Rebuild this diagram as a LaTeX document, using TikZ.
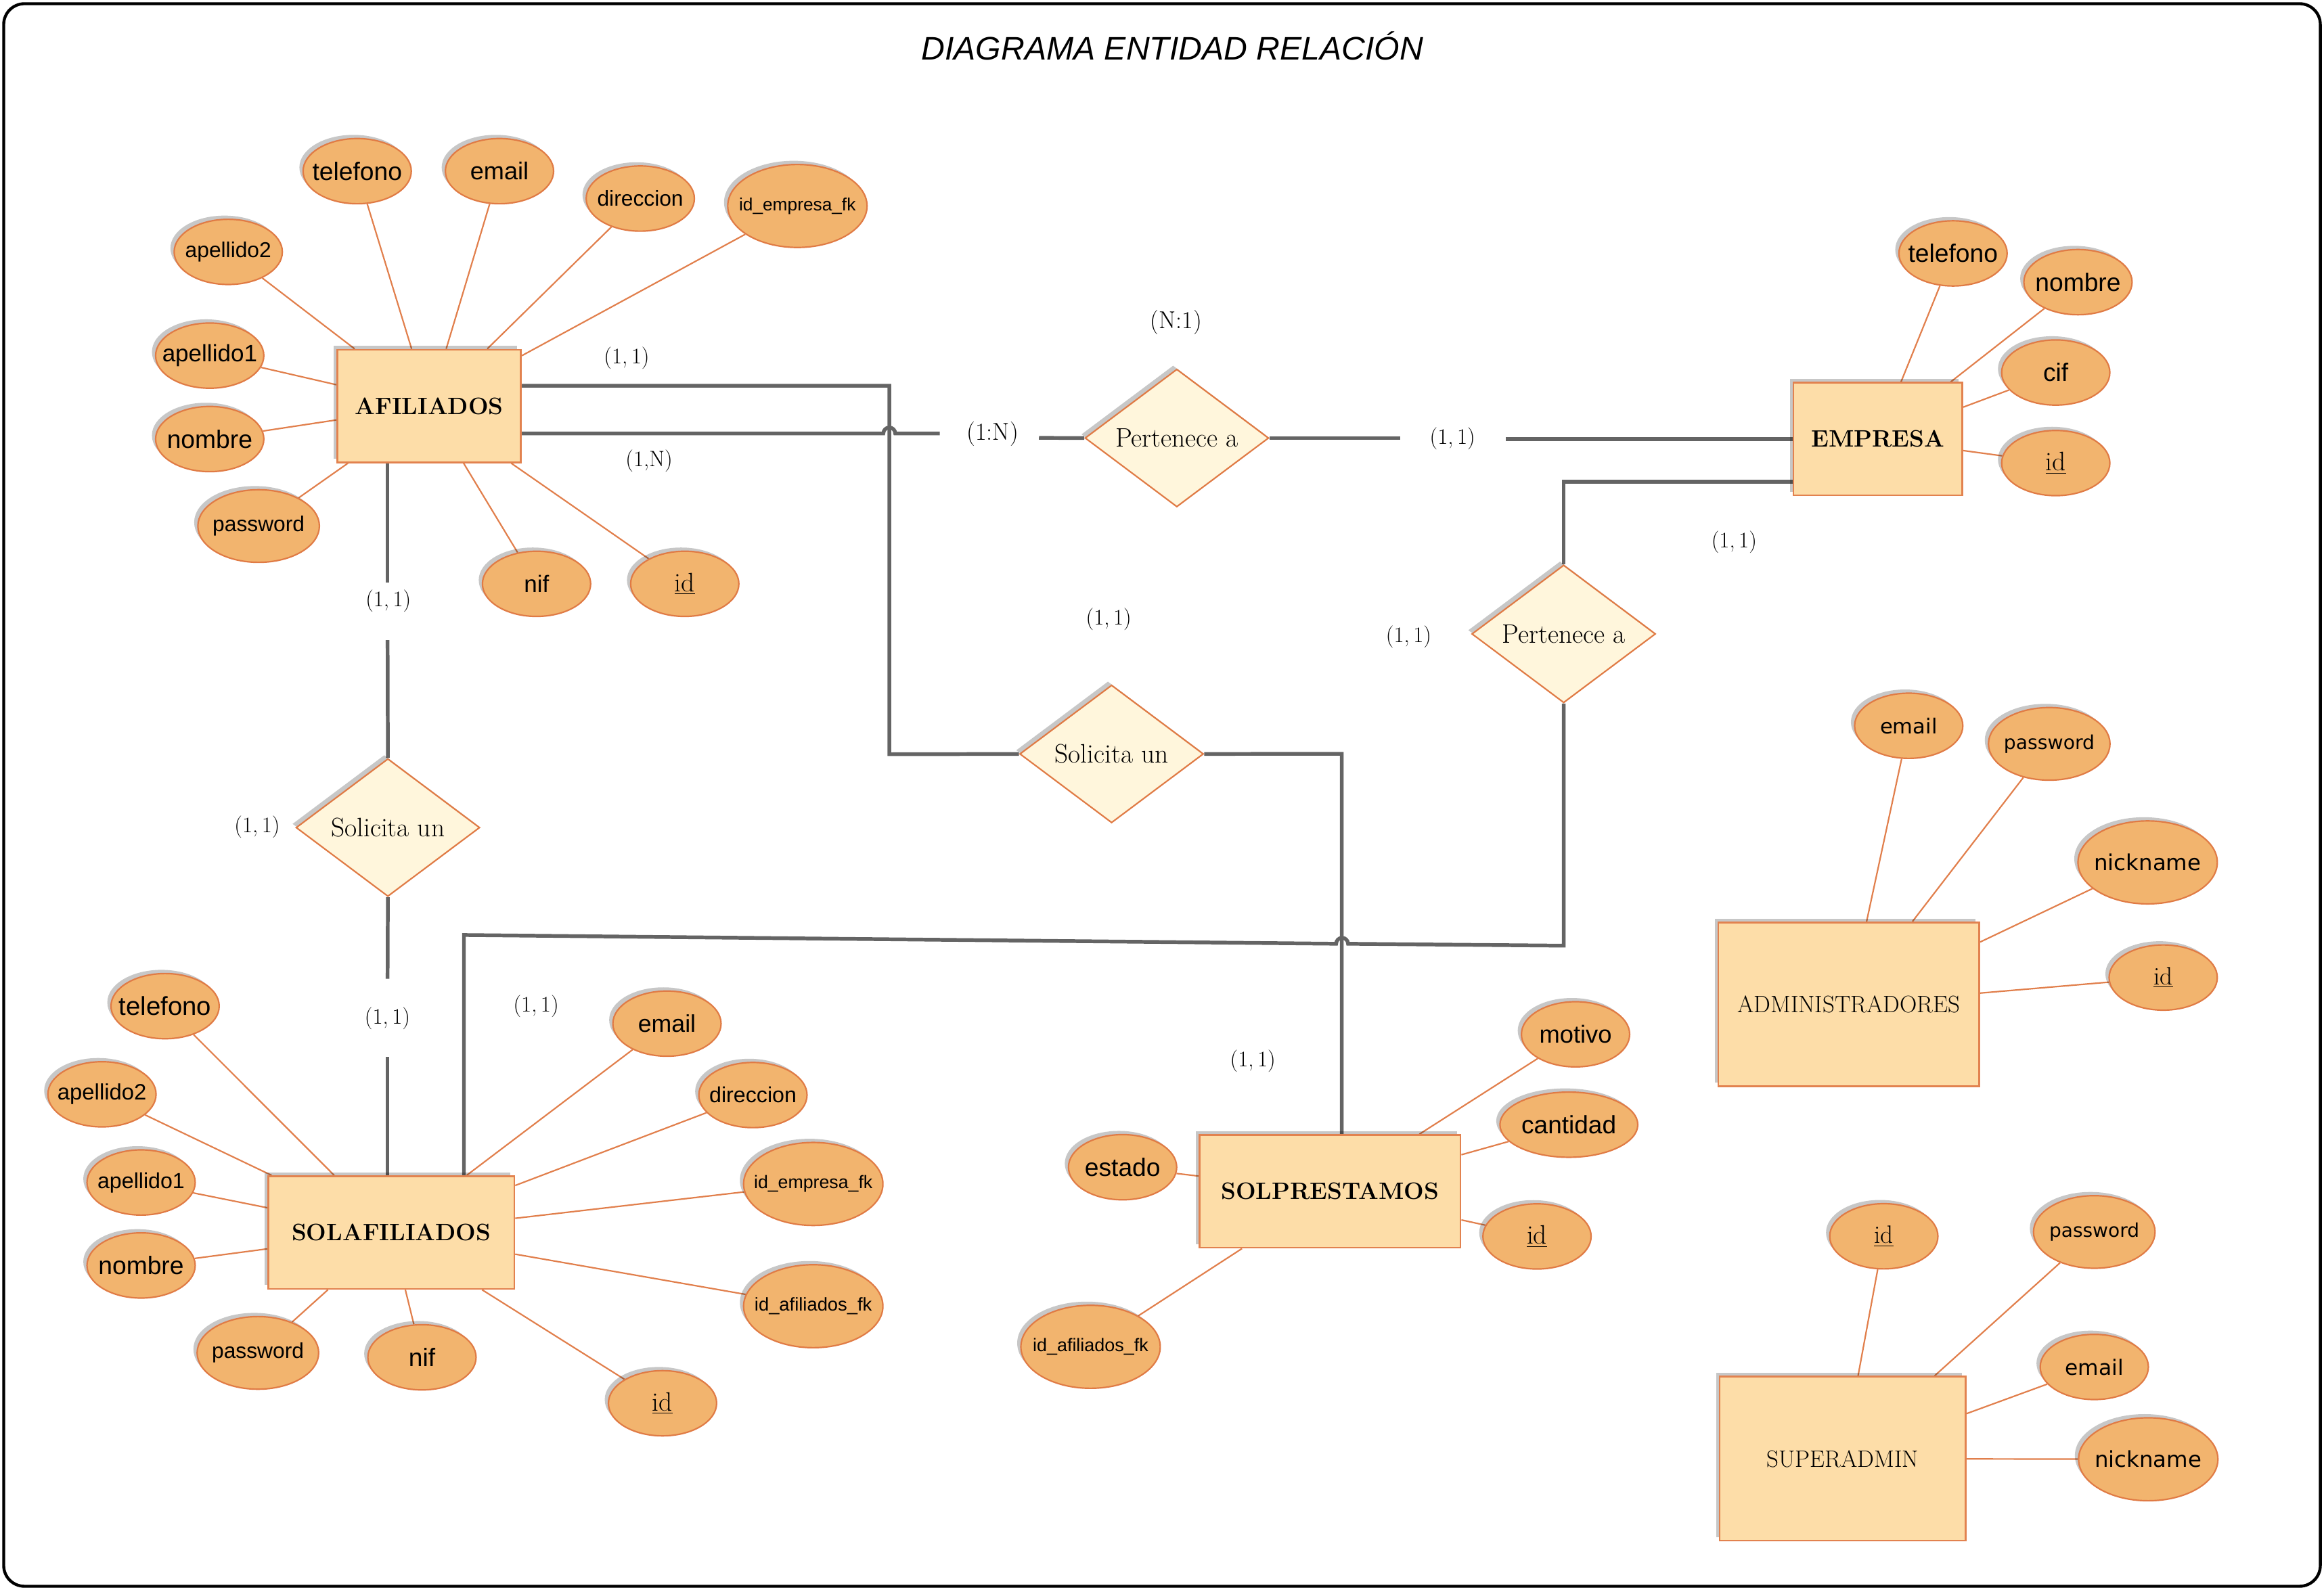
\documentclass[tikz,border=0pt]{standalone}
\usepackage{fontspec}
\usetikzlibrary{shapes.geometric,shadows}
\newfontfamily\asf{Liberation Sans}
\newfontfamily\dvs{DejaVu Sans}
\newcommand\myfs[1]{\fontsize{#1pt}{#1pt}\selectfont}
\newcommand\zb[1]{\makebox[0pt]{#1}}
\definecolor{attrfill}{HTML}{F2B46E}
\definecolor{attrdraw}{HTML}{E07B45}
\definecolor{entfill}{HTML}{FDDDA8}
\definecolor{entdraw}{HTML}{E2824F}
\definecolor{relfill}{HTML}{FFF6DC}
\definecolor{reldraw}{HTML}{E07B45}
\definecolor{conncol}{HTML}{646464}
\definecolor{alinkcol}{HTML}{E17F4C}
\pgfdeclarelayer{bg}
\pgfsetlayers{bg,main}
\tikzset{
  shd/.style={drop shadow={shadow xshift=-2.5pt,shadow yshift=2.5pt,opacity=0.22,fill=black}},
  attr/.style={ellipse, draw=attrdraw, fill=attrfill, line width=1pt, inner sep=0pt,
    minimum width=73pt, minimum height=44pt, shd, font=\asf\myfs{#1}},
  attrD/.style={attr=10, font=\dvs\myfs{#1}},
  attrI/.style={attr=10, font=\rmfamily\myfs{#1}},
  big/.style={minimum width=94pt, minimum height=56pt},
  pw/.style={minimum width=82pt, minimum height=49pt},
  ent/.style={rectangle, draw=entdraw, fill=entfill, line width=1.2pt, inner sep=0pt,
    shd, font=\bfseries\myfs{16}},
  rel/.style={diamond, aspect=1.33, draw=reldraw, fill=relfill, line width=1pt, inner sep=0pt,
    minimum width=124pt, minimum height=93pt, shd, font=\myfs{18}},
  card/.style={inner sep=0pt, font=\myfs{15}},
  conn/.style={draw=conncol, line width=2.5pt},
  alink/.style={draw=alinkcol, line width=1pt},
}
\begin{document}
\begin{tikzpicture}[x=1pt,y=-1pt]
\useasboundingbox (0,0) rectangle (1568,1073);
\draw[line width=2pt, rounded corners=14pt] (2.5,2.5) rectangle (1565.5,1070.5);

\node[inner sep=0pt] (title) at (791,31) {\asf\itshape\myfs{22}DIAGRAMA ENTIDAD RELACIÓN};

% AFILIADOS
\node[ent, minimum width=124pt, minimum height=76pt] (af) at (289.5,274) {AFILIADOS};
\node[attr=17] (af1) at (241,115.5) {\zb{telefono}};
\node[attr=16.5] (af2) at (337,115.5) {\zb{email}};
\node[attr=14.5] (af3) at (432,134) {\zb{direccion}};
\node[attr=12, big] (af4) at (538,139) {\zb{id\_empresa\_fk}};
\node[attr=14.5] (af5) at (154,170) {\zb{apellido2}};
\node[attr=16] (af6) at (141.5,240) {\zb{apellido1}};
\node[attr=17] (af7) at (141.5,296.3) {\zb{nombre}};
\node[attr=14.5, pw] (af8) at (174.5,355) {\zb{password}};
\node[attr=16] (af9) at (362,394) {\zb{nif}};
\node[attrI=18] (af10) at (462,394) {\zb{\underline{id}}};

% EMPRESA
\node[ent, minimum width=114pt, minimum height=76pt] (emp) at (1267,296.3) {EMPRESA};
\node[attr=17] (em1) at (1317.7,171) {\zb{telefono}};
\node[attr=17] (em2) at (1402,190.4) {\zb{nombre}};
\node[attr=17] (em3) at (1387,251.4) {\zb{cif}};
\node[attrI=18] (em4) at (1387,312.5) {\zb{\underline{id}}};

% Relationships
\node[rel] (rel1) at (794,295.6) {Pertenece a};
\node[rel] (rel2) at (750,508.8) {Solicita un};
\node[rel] (rel3) at (1055,427.8) {Pertenece a};
\node[rel] (rel4) at (261.7,558.5) {Solicita un};

% SOLAFILIADOS
\node[ent, minimum width=166pt, minimum height=76pt] (sa) at (264,831.8) {SOLAFILIADOS};
\node[attr=17.5] (sa1) at (111.4,679) {\zb{telefono}};
\node[attr=15] (sa2) at (68.8,738.5) {\zb{apellido2}};
\node[attr=14.7] (sa3) at (95.2,798) {\zb{apellido1}};
\node[attr=17] (sa4) at (95.2,854) {\zb{nombre}};
\node[attr=14.5, pw] (sa5) at (174,913) {\zb{password}};
\node[attr=17] (sa6) at (284.7,916) {\zb{nif}};
\node[attrI=18] (sa7) at (447,947) {\zb{\underline{id}}};
\node[attr=16.3] (sa8) at (450,690.8) {\zb{email}};
\node[attr=14.7] (sa9) at (508,739) {\zb{direccion}};
\node[attr=12.2, big] (sa10) at (548.7,799) {\zb{id\_empresa\_fk}};
\node[attr=12.5, big] (sa11) at (548.7,881.5) {\zb{id\_afiliados\_fk}};

% SOLPRESTAMOS
\node[ent, minimum width=176pt, minimum height=76pt] (sp) at (897.4,804) {SOLPRESTAMOS};
\node[attr=16.6] (sp1) at (1063,698) {\zb{motivo}};
\node[attr=16.9, minimum width=93pt] (sp2) at (1058.5,759) {\zb{cantidad}};
\node[attrI=18] (sp3) at (1037,834.4) {\zb{\underline{id}}};
\node[attr=17] (sp4) at (757.4,787.7) {\zb{estado}};
\node[attr=12.3, big] (sp5) at (735.8,908.9) {\zb{id\_afiliados\_fk}};

% ADMINISTRADORES
\node[ent, minimum width=176pt, minimum height=110.5pt, font=\mdseries\myfs{16}] (adm) at (1247.4,677.7) {ADMINISTRADORES};
\node[attrD=14] (ad1) at (1287.8,489.8) {\zb{email}};
\node[attrD=12.9, pw] (ad2) at (1382.6,502) {\zb{password}};
\node[attrD=14.8, big] (ad3) at (1449,582) {\zb{nickname}};
\node[attrI=17] (ad4) at (1459.5,659.7) {\zb{\underline{id}}};

% SUPERADMIN
\node[ent, minimum width=166pt, minimum height=110.7pt, font=\mdseries\myfs{16}] (sup) at (1243.3,984.4) {SUPERADMIN};
\node[attrI=17] (su1) at (1271,834.3) {\zb{\underline{id}}};
\node[attrD=12.8, pw] (su2) at (1413,831.4) {\zb{password}};
\node[attrD=14.3] (su3) at (1413,922.5) {\zb{email}};
\node[attrD=14.8, big] (su4) at (1449.4,984.8) {\zb{nickname}};

% Cardinalities
\node[card] (k1) at (422.8,241.6) {(1,\,1)};
\node[card] (k2) at (437.9,311) {(1,N)};
\node[card, font=\myfs{16.5}] (k3) at (669.7,293) {(1:N)};
\node[card, font=\myfs{16.5}] (k4) at (793.5,217.7) {(N:1)};
\node[card] (k5) at (980,296) {(1,\,1)};
\node[card] (k6) at (1170,366) {(1,\,1)};
\node[card] (k7) at (950.4,430) {(1,\,1)};
\node[card] (k8) at (748,417.8) {(1,\,1)};
\node[card] (k9) at (262,405.5) {(1,\,1)};
\node[card] (k10) at (173.5,558.3) {(1,\,1)};
\node[card] (k11) at (261.4,687.2) {(1,\,1)};
\node[card] (k12) at (361.7,679) {(1,\,1)};
\node[card] (k13) at (845.3,716) {(1,\,1)};

% Coordinates for connectors
\coordinate (a1) at (600,260.3);
\coordinate (a2) at (600,509);
\coordinate (b0) at (0,292.5);
\coordinate (bl) at (596,292.5);
\coordinate (b1) at (634,292.5);
\coordinate (b2) at (701,295.5);
\coordinate (b3) at (944.5,295.6);
\coordinate (b4) at (1016,296.3);
\coordinate (c1) at (1055,325);
\coordinate (c2) at (1055,638.2);
\coordinate (xr) at (909.5,636.9);
\coordinate (c3) at (313,631);
\coordinate (d1) at (905.3,508.7);
\coordinate (e1) at (261.5,393);
\coordinate (e2) at (261.5,432);
\coordinate (e3) at (261.5,660.5);
\coordinate (e4) at (261.5,713.3);

\begin{pgfonlayer}{bg}
% attribute links
\foreach \n in {af1,af2,af3,af4,af5,af6,af7,af8,af9,af10} \draw[alink] (af) -- (\n);
\foreach \n in {em1,em2,em3,em4} \draw[alink] (emp) -- (\n);
\foreach \n in {sa1,sa2,sa3,sa4,sa5,sa6,sa7,sa8,sa9,sa10,sa11} \draw[alink] (sa) -- (\n);
\foreach \n in {sp1,sp2,sp3,sp4,sp5} \draw[alink] (sp) -- (\n);
\foreach \n in {ad1,ad2,ad3,ad4} \draw[alink] (adm) -- (\n);
\foreach \n in {su1,su2,su3,su4} \draw[alink] (sup) -- (\n);
% connectors
\draw[conn] (af.east |- a1) -- (a1) -- (a2) -- (rel2.west);
\draw[conn] (af.east |- b0) -- (bl) arc[start angle=180, end angle=0, radius=4pt] -- (b1);
\draw[conn] (b2) -- (rel1.west);
\draw[conn] (rel1.east) -- (b3);
\draw[conn] (b4) -- (emp.west |- b4);
\draw[conn] (emp.west |- c1) -- (c1) -- (rel3.north);
\draw[conn] (rel3.south) -- (c2) -- (xr) arc[start angle=0, end angle=180, radius=4pt] -- (c3) -- (sa.north -| c3);
\draw[conn] (rel2.east) -- (d1) -- (sp.north -| d1);
\draw[conn] (af.south -| e1) -- (e1);
\draw[conn] (e2) -- (rel4.north);
\draw[conn] (rel4.south) -- (e3);
\draw[conn] (e4) -- (sa.north -| e4);
\end{pgfonlayer}
\end{tikzpicture}
\end{document}
